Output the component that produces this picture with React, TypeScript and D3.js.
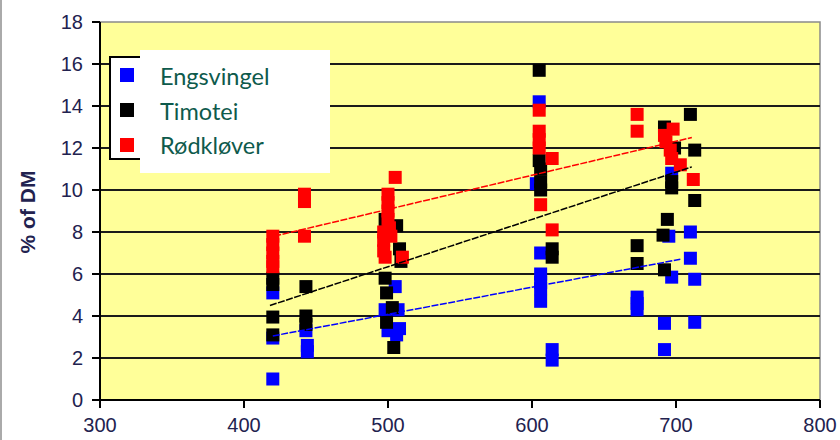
import * as d3 from "d3";

type Pt = [number, number];

const xTicks = [300, 400, 500, 600, 700, 800];
const yTicks = [0, 2, 4, 6, 8, 10, 12, 14, 16, 18];

const seriesNames = ["Engsvingel", "Timotei", "Rødkløver"];
const seriesColors = ["#0000ff", "#000000", "#ff0000"];

// Engsvingel (blue)
const engsvingel: Pt[] = [
  [420, 5.1], [420, 2.95], [420, 1.0],
  [443, 3.3], [444, 2.6], [444, 2.3],
  [505, 5.4], [498, 4.3], [507, 4.3], [500, 3.3], [508, 3.4], [506, 3.1],
  [603, 10.3], [605, 14.2], [606, 7.0], [606, 6.0], [606, 5.6], [606, 5.3], [606, 4.7], [614, 2.4], [614, 1.9],
  [673, 4.9], [673, 4.6], [673, 4.3],
  [697, 10.8], [695, 7.8], [710, 8.0], [710, 6.75], [697, 5.85], [713, 5.75], [692, 3.65], [713, 3.7], [692, 2.4],
];

// Timotei (black)
const timotei: Pt[] = [
  [420, 5.8], [420, 5.5], [420, 3.95], [420, 3.1],
  [443, 5.4], [443, 4.0], [443, 3.6],
  [498, 8.6], [506, 8.3], [508, 7.2], [509, 6.6], [498, 5.8], [499, 5.1], [503, 4.4], [499, 3.7], [504, 2.5],
  [605, 15.7], [605, 11.4], [606, 11.0], [606, 10.4], [606, 10.0], [614, 7.2], [614, 6.8],
  [673, 7.35], [673, 6.5],
  [710, 13.6], [692, 13.0], [699, 12.0], [713, 11.9], [697, 10.4], [697, 10.1], [713, 9.5], [694, 8.6], [691, 7.85], [692, 6.2],
];

// Rødkløver (red)
const rodklover: Pt[] = [
  [420, 7.8], [420, 7.4], [420, 7.0], [420, 6.6], [420, 6.35],
  [442, 9.8], [442, 9.45], [442, 7.8],
  [505, 10.6], [500, 9.8], [500, 9.4], [500, 9.0], [500, 8.6], [501, 8.2], [497, 8.0], [497, 7.6], [502, 7.8], [497, 7.1], [510, 6.8], [498, 6.8],
  [605, 13.8], [605, 12.8], [605, 12.4], [605, 12.0], [614, 11.5], [606, 9.3], [614, 8.1],
  [673, 13.6], [673, 12.8],
  [692, 12.6], [698, 12.9], [693, 12.3], [696, 11.9], [697, 11.5], [703, 11.2], [712, 10.5],
];

// trend lines: start and end
const trends: Pt[][] = [
  [[420, 3.05], [703, 6.7]],
  [[418, 4.5], [711, 11.1]],
  [[421, 7.8], [711, 12.5]],
];

const allSeries = [engsvingel, timotei, rodklover];

export default function App() {
  const W = 840;
  const H = 440;
  const x = d3.scaleLinear().domain([300, 800]).range([100, 820]);
  const y = d3.scaleLinear().domain([0, 18]).range([400, 22]);
  const line = d3.line<Pt>().x((d) => x(d[0])).y((d) => y(d[1]));
  const m = 13;
  const tickFill = "#22224f";

  return (
    <div style={{ position: "absolute", left: 0, top: 0 }}>
      <svg width={W} height={H} style={{ display: "block", background: "#fff" }}>
        <line x1={1} x2={1} y1={0} y2={H} stroke="#aaa" strokeWidth={2} />
        <rect x={x(300)} y={y(18)} width={x(800) - x(300)} height={y(0) - y(18)} fill="#ffff99" stroke="#8a8a8a" strokeWidth={1.5} />

        {yTicks.filter((t) => t > 0 && t < 18).map((t) => (
          <line key={t} x1={x(300)} x2={x(800)} y1={y(t)} y2={y(t)} stroke="#1a1a1a" strokeWidth={2} />
        ))}

        {/* axes */}
        <line x1={x(300)} x2={x(300)} y1={y(18)} y2={y(0)} stroke="#000" strokeWidth={2} />
        <line x1={x(300)} x2={x(800)} y1={y(0)} y2={y(0)} stroke="#000" strokeWidth={2} />
        {yTicks.map((t) => (
          <g key={t}>
            <line x1={x(300) - 8} x2={x(300)} y1={y(t)} y2={y(t)} stroke="#000" strokeWidth={2} />
            <text x={83} y={y(t)} dy="0.36em" textAnchor="end" fontFamily="Liberation Sans, Arial" fontSize={20} fill={tickFill}>
              {t}
            </text>
          </g>
        ))}
        {xTicks.map((t) => (
          <g key={t}>
            <line x1={x(t)} x2={x(t)} y1={y(0)} y2={y(0) + 8} stroke="#000" strokeWidth={2} />
            <text x={x(t)} y={432} textAnchor="middle" fontFamily="Liberation Sans, Arial" fontSize={20} fill={tickFill}>
              {t}
            </text>
          </g>
        ))}
        <text
          transform={`translate(35,212) rotate(-90)`}
          textAnchor="middle"
          fontFamily="Liberation Sans, Arial"
          fontWeight="bold"
          fontSize={21}
          fill={tickFill}
        >
          % of DM
        </text>

        {/* points */}
        {allSeries.map((s, i) => (
          <g key={i} fill={seriesColors[i]}>
            {s.map((d, j) => (
              <rect key={j} x={x(d[0]) - m / 2} y={y(d[1]) - m / 2} width={m} height={m} />
            ))}
          </g>
        ))}

        {/* trend lines */}
        {trends.map((t, i) => (
          <path key={i} d={line(t) ?? ""} fill="none" stroke={seriesColors[i]} strokeWidth={1.5} strokeDasharray="7 1.5" />
        ))}

        {/* legend */}
        <rect x={110} y={57} width={180} height={102} fill="#fff" stroke="#000" strokeWidth={2} />
        {seriesColors.map((c, i) => (
          <rect key={c} x={120} y={68 + i * 35} width={14} height={14} fill={c} />
        ))}
        <rect x={140} y={50} width={190} height={123} fill="#fff" />
        {seriesNames.map((n, i) => (
          <text key={n} x={160} y={85 + i * 34.5} fontFamily="Lato" fontSize={23.5} fill="#0e5a4c">
            {n}
          </text>
        ))}
      </svg>
    </div>
  );
}
